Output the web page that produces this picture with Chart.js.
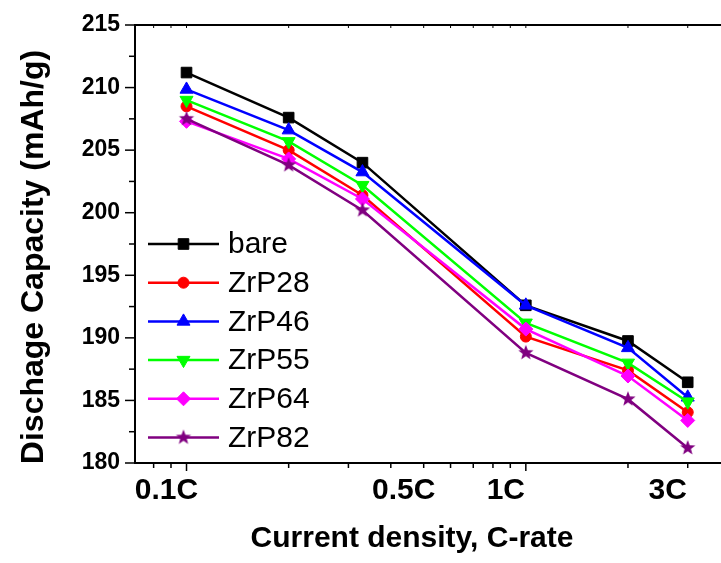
<!DOCTYPE html>
<html lang="en">
<head>
    <meta charset="UTF-8">
    <title>Discharge capacity vs C-rate</title>
    <script src="https://cdn.jsdelivr.net/npm/chart.js@4.4.0/dist/chart.umd.min.js"></script>
    <style>
        html, body { margin: 0; padding: 0; background: #fff; }
        #wrap { position: relative; width: 721px; height: 563px; }
    </style>
</head>
<body>
    <div id="wrap"><canvas id="chart" width="721" height="563"></canvas></div>
    <script>
        // C-rates of the measurements (x values, log axis)
        const rates = [0.1, 0.2, 0.33, 1, 2, 3];

        // discharge capacity, mAh/g
        const bare  = [211.2, 207.6, 204.0, 192.6, 189.75, 186.45];
        const zrp28 = [208.5, 205.0, 201.4, 190.1, 187.4, 184.05];
        const zrp46 = [209.85, 206.6, 203.25, 192.6, 189.2, 185.25];
        const zrp55 = [209.0, 205.7, 202.2, 191.2, 188.0, 184.9];
        const zrp64 = [207.3, 204.3, 201.1, 190.7, 186.95, 183.4];
        const zrp82 = [207.5, 203.8, 200.2, 188.8, 185.1, 181.2];

        const seriesNames = ['bare', 'ZrP28', 'ZrP46', 'ZrP55', 'ZrP64', 'ZrP82'];

        // axis ticks
        const xTickValues = [0.08, 0.09, 0.1, 0.2, 0.3, 0.4, 0.5, 0.6, 0.7, 0.8, 0.9, 1, 2, 3];
        const xTickLabels = { 0.1: '0.1C', 0.5: '0.5C', 1: '1C', 3: '3C' };

        const FONT = "'Liberation Sans', Arial, Helvetica, sans-serif";

        // filled five point star for ZrP82
        function makeStar(color, r) {
            const c = document.createElement('canvas');
            c.width = c.height = r * 2 + 2;
            const g = c.getContext('2d');
            g.fillStyle = color;
            g.beginPath();
            for (let i = 0; i < 10; i++) {
                const rad = (i % 2 === 0) ? r : r * 0.42;
                const a = -Math.PI / 2 + i * Math.PI / 5;
                const px = r + 1 + rad * Math.cos(a);
                const py = r + 1 + rad * Math.sin(a);
                if (i === 0) g.moveTo(px, py); else g.lineTo(px, py);
            }
            g.closePath();
            g.fill();
            return c;
        }

        const styles = [
            { color: '#000000', point: 'rect', radius: 7.5, rotation: 0 },
            { color: '#ff0000', point: 'circle', radius: 5.5, rotation: 0 },
            { color: '#0000ff', point: 'triangle', radius: 7.5, rotation: 0 },
            { color: '#00ff00', point: 'triangle', radius: 7.5, rotation: 180 },
            { color: '#ff00ff', point: 'rectRot', radius: 7, rotation: 0 },
            { color: '#800080', point: makeStar('#800080', 8), radius: 8, rotation: 0 }
        ];

        const values = [bare, zrp28, zrp46, zrp55, zrp64, zrp82];

        const datasets = values.map((vals, i) => ({
            label: seriesNames[i],
            data: vals.map((v, j) => ({ x: rates[j], y: v })),
            borderColor: styles[i].color,
            backgroundColor: styles[i].color,
            borderWidth: 2.5,
            pointStyle: styles[i].point,
            pointRadius: styles[i].radius,
            pointHoverRadius: styles[i].radius,
            pointRotation: styles[i].rotation,
            pointBorderWidth: 1,
            tension: 0,
            order: values.length - 1 - i
        }));

        // axis tick marks (different lengths for major / minor) and top frame line
        const tickMarks = {
            id: 'tickMarks',
            afterDraw(chart) {
                const ctx = chart.ctx;
                const area = chart.chartArea;
                const xs = chart.scales.x, ys = chart.scales.y;
                ctx.save();
                ctx.strokeStyle = '#000';
                ctx.lineWidth = 1.5;
                ys.ticks.forEach(t => {
                    const y = ys.getPixelForValue(t.value);
                    const len = (t.value % 5 === 0) ? 10 : 6;
                    ctx.beginPath();
                    ctx.moveTo(area.left - len, y);
                    ctx.lineTo(area.left, y);
                    ctx.stroke();
                });
                xs.ticks.forEach(t => {
                    const x = xs.getPixelForValue(t.value);
                    const major = (t.value === 0.1 || t.value === 1);
                    ctx.beginPath();
                    ctx.moveTo(x, area.bottom);
                    ctx.lineTo(x, area.bottom + (major ? 8 : 5));
                    ctx.stroke();
                    ctx.lineWidth = 1;
                    ctx.beginPath();
                    ctx.moveTo(x, area.top);
                    ctx.lineTo(x, area.top + 3);
                    ctx.stroke();
                    ctx.lineWidth = 1.5;
                });
                ctx.lineWidth = 2;
                ctx.beginPath();
                ctx.moveTo(area.left, area.top);
                ctx.lineTo(chart.width, area.top);
                ctx.stroke();
                ctx.restore();
            }
        };

        // axis titles placed as in the original figure
        const axisTitles = {
            id: 'axisTitles',
            afterDraw(chart, args, opts) {
                const ctx = chart.ctx;
                const area = chart.chartArea;
                ctx.save();
                ctx.fillStyle = '#000';
                ctx.textAlign = 'center';
                ctx.textBaseline = 'alphabetic';
                ctx.font = 'bold 30px ' + FONT;
                ctx.fillText(opts.x, (area.left + area.right) / 2 - 16, area.bottom + 84);
                ctx.translate(43, (area.top + area.bottom) / 2 + 13);
                ctx.rotate(-Math.PI / 2);
                ctx.font = 'bold 32px ' + FONT;
                ctx.fillText(opts.y, 0, 0);
                ctx.restore();
            }
        };

        // legend inside the plot, line + marker + name
        const insideLegend = {
            id: 'insideLegend',
            afterDatasetsDraw(chart, args, opts) {
                const ctx = chart.ctx;
                const area = chart.chartArea;
                ctx.save();
                ctx.font = '30px ' + FONT;
                ctx.textAlign = 'left';
                ctx.textBaseline = 'middle';
                chart.data.datasets.forEach((ds, i) => {
                    const y = area.top + opts.top + i * opts.step;
                    const x0 = area.left + opts.left;
                    ctx.strokeStyle = ds.borderColor;
                    ctx.lineWidth = ds.borderWidth;
                    ctx.beginPath();
                    ctx.moveTo(x0, y);
                    ctx.lineTo(x0 + opts.lineLen, y);
                    ctx.stroke();
                    ctx.fillStyle = ds.backgroundColor;
                    ctx.lineWidth = 1;
                    Chart.helpers.drawPoint(ctx, {
                        pointStyle: ds.pointStyle,
                        rotation: ds.pointRotation,
                        radius: ds.pointRadius,
                        borderWidth: 1
                    }, x0 + opts.lineLen / 2, y);
                    ctx.fillStyle = '#000';
                    ctx.fillText(ds.label, x0 + opts.lineLen + 9, y + 1);
                });
                ctx.restore();
            }
        };

        new Chart(document.getElementById('chart'), {
            type: 'line',
            data: { datasets },
            plugins: [tickMarks, axisTitles, insideLegend],
            options: {
                responsive: false,
                animation: false,
                layout: { autoPadding: false, padding: { top: 25, right: 0, left: 0, bottom: 0 } },
                plugins: {
                    legend: { display: false },
                    tooltip: { enabled: false },
                    axisTitles: { x: 'Current density, C-rate', y: 'Dischage Capacity (mAh/g)' },
                    insideLegend: { left: 13, top: 219, step: 38.7, lineLen: 71 }
                },
                scales: {
                    x: {
                        type: 'logarithmic',
                        min: 0.0705,
                        max: 3.76,
                        afterFit: s => { s.height = 100; s.paddingLeft = 0; s.paddingRight = 0; },
                        afterBuildTicks: s => { s.ticks = xTickValues.map(v => ({ value: v })); },
                        grid: { display: false, drawTicks: false },
                        border: { display: true, color: '#000', width: 2 },
                        ticks: {
                            autoSkip: false,
                            maxRotation: 0,
                            padding: 10,
                            labelOffset: -20,
                            color: '#000',
                            font: { family: FONT, size: 30, weight: 'bold' },
                            callback: v => xTickLabels[v] || ''
                        }
                    },
                    y: {
                        min: 180,
                        max: 215,
                        afterFit: s => { s.width = 135; s.paddingTop = 0; s.paddingBottom = 0; },
                        grid: { display: false, drawTicks: false },
                        border: { display: true, color: '#000', width: 2 },
                        ticks: {
                            stepSize: 2.5,
                            padding: 15,
                            color: '#000',
                            font: { family: FONT, size: 23, weight: 'bold' },
                            callback: v => (v % 5 === 0 ? String(v) : '')
                        }
                    }
                }
            }
        });
    </script>
</body>
</html>
